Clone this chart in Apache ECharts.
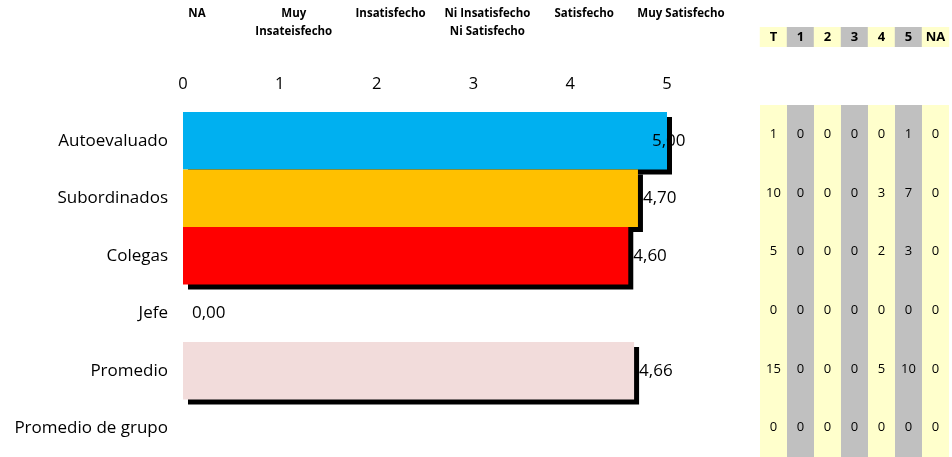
<!DOCTYPE html>
<html><head><meta charset="utf-8">
<script src="https://cdn.jsdelivr.net/npm/echarts@6/dist/echarts.min.js"></script>
<style>html,body{margin:0;padding:0;background:#fff}#c{width:952px;height:457px}</style>
</head><body><div id="c"></div>
<script>
const categories = ['Autoevaluado','Subordinados','Colegas','Jefe','Promedio','Promedio de grupo'];
const scores = [5.00, 4.70, 4.60, 0.00, 4.66, null];
const scaleTicks = [0, 1, 2, 3, 4, 5];
const scaleHeaders = ['NA','Muy\nInsateisfecho','Insatisfecho','Ni Insatisfecho\nNi Satisfecho','Satisfecho','Muy Satisfecho'];
const tableColumns = ['T','1','2','3','4','5','NA'];
const countsT  = [1, 10, 5, 0, 15, 0];
const counts1  = [0, 0, 0, 0, 0, 0];
const counts2  = [0, 0, 0, 0, 0, 0];
const counts3  = [0, 0, 0, 0, 0, 0];
const counts4  = [0, 3, 2, 0, 5, 0];
const counts5  = [1, 7, 3, 0, 10, 0];
const countsNA = [0, 0, 0, 0, 0, 0];

const FONT = 'Open Sans';
const barColors = ['#00B0F0','#FFC000','#FF0000','#FFFFFF','#F2DCDB','#FFFFFF'];
const colW = 192 / 7;

const tableCols = [countsT, counts1, counts2, counts3, counts4, counts5, countsNA];
const tableData = [];
categories.forEach((cat, r) => {
  tableCols.forEach((col, c) => { tableData.push([c, r, col[r]]); });
});

const barData = scores.map((v, i) => {
  const d = { value: v == null ? '-' : v, itemStyle: { color: barColors[i] } };
  if (i === 0) d.label = { offset: [-20, 0] };
  if (i === 3) d.label = { offset: [4, 0] };
  return d;
});

const hidden = { axisLine: { show: false }, axisTick: { show: false }, splitLine: { show: false } };

const chart = echarts.init(document.getElementById('c'));
chart.setOption({
  animation: false,
  textStyle: { fontFamily: FONT },
  grid: [
    { left: 183, width: 484, top: 112, bottom: 0 },
    { left: 760, right: 0, top: 105, bottom: 0 },
    { left: 197, width: 484, top: 13, height: 1 }
  ],
  xAxis: [
    Object.assign({ gridIndex: 0, type: 'value', position: 'top', min: scaleTicks[0], max: scaleTicks[scaleTicks.length - 1], interval: 1,
      axisLabel: { fontFamily: FONT, fontSize: 16.5, color: '#000', margin: 19 } }, hidden),
    { gridIndex: 1, type: 'category', data: tableColumns, position: 'top',
      axisLine: { show: false }, axisTick: { show: false },
      splitArea: { show: true, areaStyle: { color: ['#FFFFCC', '#C0C0C0'] } },
      axisLabel: { interval: 0, margin: 58,
        formatter: (v, i) => '{' + (i % 2 ? 'g' : 'y') + '|' + v + '}',
        rich: {
          y: { backgroundColor: '#FFFFCC', width: colW, height: 20, align: 'center', fontWeight: 'bold', fontSize: 13, fontFamily: FONT, color: '#000' },
          g: { backgroundColor: '#C0C0C0', width: colW, height: 20, align: 'center', fontWeight: 'bold', fontSize: 13, fontFamily: FONT, color: '#000' }
        } } },
    Object.assign({ gridIndex: 2, type: 'value', position: 'top', min: 0, max: 5, interval: 1,
      axisLabel: { formatter: v => scaleHeaders[v], fontFamily: FONT, fontWeight: 'bold', fontSize: 11.5, lineHeight: 18, verticalAlign: 'top', color: '#000', margin: 8 } }, hidden)
  ],
  yAxis: [
    Object.assign({ gridIndex: 0, type: 'category', data: categories, inverse: true,
      axisLabel: { fontFamily: FONT, fontSize: 17, color: '#000', margin: 15 } }, hidden),
    { gridIndex: 1, type: 'category', data: categories, inverse: true, show: false },
    { gridIndex: 2, type: 'value', show: false }
  ],
  series: [
    { type: 'bar', xAxisIndex: 0, yAxisIndex: 0, data: barData, barCategoryGap: '0%',
      itemStyle: { shadowColor: '#000', shadowOffsetX: 5, shadowOffsetY: 5, shadowBlur: 0 },
      label: { show: true, position: 'right', distance: 5, fontFamily: FONT, fontSize: 17, color: '#000',
        formatter: p => Number(p.value).toFixed(2).replace('.', ',') } },
    { type: 'custom', xAxisIndex: 1, yAxisIndex: 1, data: tableData, silent: true,
      encode: { x: 0, y: 1 },
      renderItem: (params, api) => {
        const pt = api.coord([api.value(0), api.value(1)]);
        return { type: 'text', x: pt[0], y: pt[1],
          style: { text: String(api.value(2)), fill: '#000', align: 'center', verticalAlign: 'middle',
            fontSize: 13, fontFamily: FONT } };
      } }
  ]
});
</script></body></html>
